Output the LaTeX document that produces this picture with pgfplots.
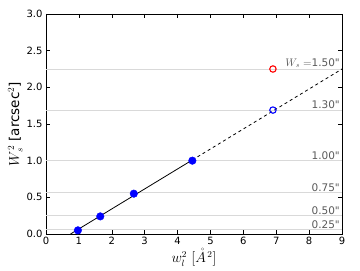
\documentclass[border=0pt]{standalone}
\usepackage{fontspec}
\setmainfont{DejaVu Sans}
\usepackage{pgfplots}
\pgfplotsset{compat=1.18}
\begin{document}
\begin{tikzpicture}
\begin{axis}[
  scale only axis, width=296pt, height=220pt,
  xmin=0, xmax=9, ymin=0, ymax=3,
  xtick={0,...,9}, ytick={0,0.5,...,3},
  yticklabel style={/pgf/number format/.cd, fixed, fixed zerofill, precision=1},
  /pgf/number format/assume math mode=true,
  tick align=inside, major tick length=4pt,
  tick style={black, line width=0.5pt},
  ticklabel style={font=\fontsize{10}{12}\selectfont, text=black},
  axis line style={line width=0.6pt},
  xlabel={$w_l^2\ [\mathring{A}^{\,2}]$},
  ylabel={$W_s^2$ [arcsec$^2$]},
  label style={font=\fontsize{13.5}{15}\selectfont},
  xlabel style={yshift=3pt},
  ylabel style={yshift=-3pt},
  clip=false,
]
% reference lines
\foreach \v in {0.0625,0.25,0.5625,1.0,1.69,2.25} {
  \edef\tmp{\noexpand\addplot[gray!30, line width=0.8pt, forget plot] coordinates {(0,\v) (9,\v)};}
  \tmp
}
\addplot[black, line width=0.8pt] coordinates {(0.745,0) (4.45,1.0096)};
\addplot[black, dash pattern=on 3pt off 3pt, line width=0.8pt] coordinates {(4.45,1.0096) (9,2.25)};
\addplot[only marks, mark=*, mark size=3.8pt, blue, mark options={fill=blue, draw=blue}] coordinates {
(0.97,0.05) (1.65,0.24) (2.67,0.55) (4.45,1.0)};
\addplot[only marks, mark=o, mark size=3.2pt, blue, mark options={line width=1.1pt}] coordinates {(6.9,1.69)};
\addplot[only marks, mark=o, mark size=3.2pt, red, mark options={line width=1.1pt}] coordinates {(6.9,2.25)};
\begin{scope}[every node/.style={anchor=south east, text=black!65, font=\fontsize{10.5}{12}\selectfont, inner sep=1pt}]
\node at (axis cs:8.97,2.25) {$W_s=$1.50\textquotedbl};
\node at (axis cs:8.97,1.69) {1.30\textquotedbl};
\node at (axis cs:8.97,1.0) {1.00\textquotedbl};
\node at (axis cs:8.97,0.5625) {0.75\textquotedbl};
\node at (axis cs:8.97,0.25) {0.50\textquotedbl};
\node at (axis cs:8.97,0.0625) {0.25\textquotedbl};
\end{scope}
\end{axis}
\pgfresetboundingbox
\path (current axis.south west) ++(-46pt,-36pt) coordinate (bl);
\path (current axis.north east) ++(18pt,14pt) coordinate (tr);
\path[use as bounding box] (bl) rectangle (tr);
\end{tikzpicture}
\end{document}
